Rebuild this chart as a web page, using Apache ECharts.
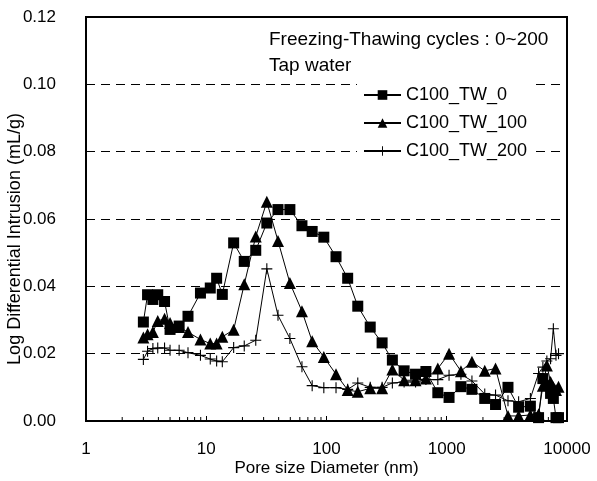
<!DOCTYPE html>
<html>
<head>
<meta charset="utf-8">
<script src="https://cdn.jsdelivr.net/npm/echarts@6/dist/echarts.min.js"></script>
<style>
  html, body { margin: 0; padding: 0; background: #fff; }
  #main { width: 597px; height: 481px; }
</style>
</head>
<body>
<div id="main"></div>
<script>
// pore size diameter (nm), shared by the three curves
var diameter = [3.0, 3.25, 3.6, 3.95, 4.5, 5.0, 5.95, 7.05, 8.95, 10.8, 12.2, 13.6, 16.9, 20.7, 25.8, 31.9,
  39.5, 49.6, 62.5, 76, 95, 120, 150, 182, 231, 290, 353, 442, 550, 671, 843, 1045, 1312, 1620, 2070,
  2545, 3230, 3960, 4960, 5800, 6300, 6800, 7300, 7700, 8100, 8500];

var tw0 = [0.0294, 0.0375, 0.0361, 0.0375, 0.0355, 0.0272, 0.0282, 0.0311, 0.0380, 0.0395, 0.0424, 0.0376,
  0.0529, 0.0474, 0.0507, 0.0588, 0.0628, 0.0628, 0.0580, 0.0563, 0.0546, 0.0488, 0.0424, 0.0341, 0.0279,
  0.0232, 0.0181, 0.0149, 0.0139, 0.0147, 0.0084, 0.0070, 0.0102, 0.0094, 0.0067, 0.0049, 0.0100, 0.0041,
  0.0044, 0.0010, 0.0126, 0.0105, 0.0082, 0.0067, 0.0010, 0.0010];

var tw100 = [0.0248, 0.0258, 0.0264, 0.0297, 0.0304, 0.0291, 0.0279, 0.0264, 0.0242, 0.0230, 0.0230, 0.0250,
  0.0271, 0.0406, 0.0548, 0.0651, 0.0535, 0.0410, 0.0326, 0.0237, 0.0190, 0.0139, 0.0092, 0.0087, 0.0097,
  0.0097, 0.0153, 0.0121, 0.0121, 0.0126, 0.0156, 0.0200, 0.0148, 0.0176, 0.0149, 0.0156, 0.0015, 0.0015,
  0.0018, 0.0020, 0.0105, 0.0165, 0.0116, 0.0100, 0.0092, 0.0102];

var tw200 = [0.0183, 0.0207, 0.0215, 0.0217, 0.0217, 0.0210, 0.0210, 0.0203, 0.0195, 0.0184, 0.0178, 0.0176,
  0.0218, 0.0223, 0.0240, 0.0452, 0.0314, 0.0245, 0.0161, 0.0105, 0.0099, 0.0099, 0.0094, 0.0113, 0.0100,
  0.0100, 0.0113, 0.0116, 0.0116, 0.0123, 0.0123, 0.0136, 0.0139, 0.0119, 0.0080, 0.0077, 0.0060, 0.0057,
  0.0067, 0.0141, 0.0160, 0.0178, 0.0185, 0.0274, 0.0195, 0.0200];

var seriesNames = ['C100_TW_0', 'C100_TW_100', 'C100_TW_200'];
var xTickLabels = [1, 10, 100, 1000, 10000];
var minorTicks = [2, 3, 4, 5, 6, 7, 8, 9, 20, 30, 40, 50, 60, 70, 80, 90,
  200, 300, 400, 500, 600, 700, 800, 900, 2000, 3000, 4000, 5000, 6000, 7000, 8000, 9000];

function pairs(ys) {
  return diameter.map(function (d, i) { return [d, ys[i]]; });
}

var font = 'Liberation Sans, Arial, sans-serif';
var plus = 'path://M4.5,0h1v10h-1z M0,4.5h10v1h-10z';

var chart = echarts.init(document.getElementById('main'));
chart.setOption({
  animation: false,
  backgroundColor: '#fff',
  textStyle: { fontFamily: font, color: '#000' },
  title: {
    text: 'Freezing-Thawing cycles : 0~200\nTap water',
    left: 269,
    top: 27,
    padding: 0,
    textStyle: { fontFamily: font, fontSize: 19, fontWeight: 'normal', color: '#000', lineHeight: 26 }
  },
  legend: {
    data: seriesNames,
    orient: 'vertical',
    left: 357,
    top: 78,
    padding: [7, 6, 7, 6],
    backgroundColor: '#fff',
    itemWidth: 37,
    itemHeight: 12,
    itemGap: 8,
    textStyle: { fontFamily: font, fontSize: 18, color: '#000', lineHeight: 20 }
  },
  grid: {
    left: 86, right: 30, top: 17, bottom: 60,
    outerBoundsMode: 'none',
    containLabel: false,
    show: true, borderColor: '#000', borderWidth: 2
  },
  xAxis: {
    type: 'log',
    logBase: 10,
    min: 1,
    max: 10000,
    name: 'Pore size Diameter (nm)',
    nameLocation: 'middle',
    nameGap: 39,
    nameMoveOverlap: false,
    nameTextStyle: { fontFamily: font, fontSize: 17, color: '#000' },
    axisLine: { lineStyle: { color: '#000', width: 2 } },
    axisTick: { inside: true, length: 5, lineStyle: { color: '#000' } },
    axisLabel: {
      fontFamily: font, fontSize: 17, color: '#000', margin: 20,
      formatter: function (v) { return xTickLabels.indexOf(v) >= 0 ? String(v) : ''; }
    },
    splitLine: { show: false }
  },
  yAxis: {
    type: 'value',
    min: 0,
    max: 0.12,
    interval: 0.02,
    name: 'Log Differential Intrusion (mL/g)',
    nameLocation: 'middle',
    nameGap: 62,
    nameMoveOverlap: false,
    nameTextStyle: { fontFamily: font, fontSize: 18, color: '#000', padding: [0, 40, 0, 0] },
    axisLine: { show: true, lineStyle: { color: '#000', width: 2 } },
    axisTick: { show: true, inside: true, length: 5, lineStyle: { color: '#000' } },
    axisLabel: {
      fontFamily: font, fontSize: 17, color: '#000', margin: 30,
      formatter: function (v) { return v.toFixed(2); }
    },
    splitLine: { show: true, lineStyle: { color: '#000', type: [9, 6], width: 1 } }
  },
  series: [
    {
      name: seriesNames[0], type: 'line', data: pairs(tw0),
      symbol: 'rect', symbolSize: 11, color: '#000',
      lineStyle: { color: '#000', width: 1 }, itemStyle: { color: '#000' }
    },
    {
      name: seriesNames[1], type: 'line', data: pairs(tw100),
      symbol: 'triangle', symbolSize: 12, color: '#000',
      lineStyle: { color: '#000', width: 1 }, itemStyle: { color: '#000' }
    },
    {
      name: seriesNames[2], type: 'line', data: pairs(tw200),
      symbol: plus, symbolSize: 11, color: '#000',
      lineStyle: { color: '#000', width: 1 }, itemStyle: { color: '#000' }
    },
    {
      // minor ticks of the log axis (2..9 per decade)
      type: 'custom',
      silent: true,
      data: minorTicks.map(function (v) { return [v, 0]; }),
      renderItem: function (params, api) {
        var p = api.coord([api.value(0), 0]);
        return {
          type: 'line',
          shape: { x1: p[0], y1: p[1], x2: p[0], y2: p[1] - 4 },
          style: { stroke: '#000', lineWidth: 1 }
        };
      },
      z: 5
    }
  ]
});
</script>
</body>
</html>
